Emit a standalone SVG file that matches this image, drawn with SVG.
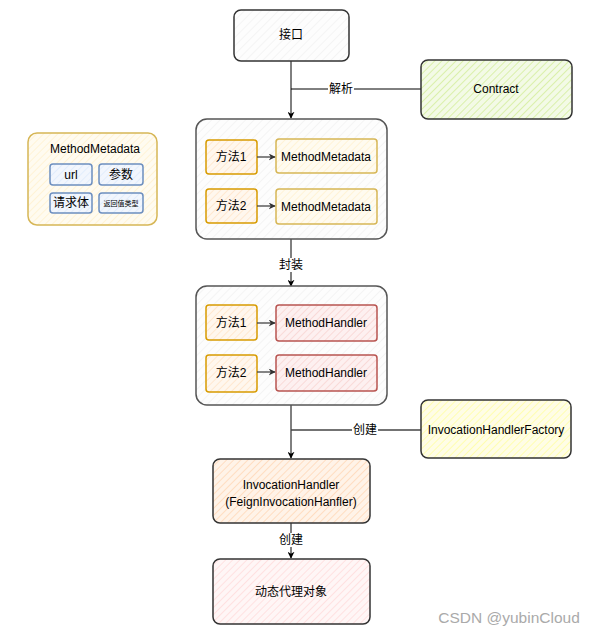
<svg xmlns="http://www.w3.org/2000/svg" width="593" height="635" viewBox="0 0 593 635">
<style>
text{font-family:"Liberation Sans","Noto Sans CJK SC",sans-serif;font-size:12px;fill:#000;text-anchor:middle;dominant-baseline:central}
.n{stroke-width:1.5;stroke-linejoin:round}
.dark{stroke:#333}
.grp{stroke:#555}
.ora{stroke:#d79b00}
.yel{stroke:#d6b656}
.red{stroke:#b85450}
.blu{stroke:#6c8ebf}
.ln{stroke:#000;stroke-width:1;fill:none}
.gl{stroke:#444;stroke-width:1.3;fill:none}
.lbl{fill:#fff}
</style>
<defs>
<pattern id="hGray" width="6" height="6" patternUnits="userSpaceOnUse" patternTransform="rotate(45)"><rect width="6" height="6" fill="#fdfdfd"/><line x1="0" y1="0" x2="0" y2="6" stroke="#efefef" stroke-width="1.2"/></pattern>
<pattern id="hGreen" width="5" height="5" patternUnits="userSpaceOnUse" patternTransform="rotate(45)"><rect width="5" height="5" fill="#f3fae6"/><line x1="0" y1="0" x2="0" y2="5" stroke="#cdeb8b" stroke-width="1.3"/></pattern>
<pattern id="hOra" width="5" height="5" patternUnits="userSpaceOnUse" patternTransform="rotate(45)"><rect width="5" height="5" fill="#fff7ee"/><line x1="0" y1="0" x2="0" y2="5" stroke="#ffe0c0" stroke-width="1.3"/></pattern>
<pattern id="hYel" width="5" height="5" patternUnits="userSpaceOnUse" patternTransform="rotate(45)"><rect width="5" height="5" fill="#fffbf0"/><line x1="0" y1="0" x2="0" y2="5" stroke="#fff0c8" stroke-width="1.3"/></pattern>
<pattern id="hRed" width="5" height="5" patternUnits="userSpaceOnUse" patternTransform="rotate(45)"><rect width="5" height="5" fill="#fdf0f0"/><line x1="0" y1="0" x2="0" y2="5" stroke="#f8cecc" stroke-width="1.3"/></pattern>
<pattern id="hBlu" width="5" height="5" patternUnits="userSpaceOnUse" patternTransform="rotate(45)"><rect width="5" height="5" fill="#f2f6fd"/><line x1="0" y1="0" x2="0" y2="5" stroke="#dae8fc" stroke-width="1.3"/></pattern>
<pattern id="hLemon" width="5" height="5" patternUnits="userSpaceOnUse" patternTransform="rotate(45)"><rect width="5" height="5" fill="#fffde6"/><line x1="0" y1="0" x2="0" y2="5" stroke="#ffff99" stroke-width="1.4"/></pattern>
<pattern id="hPeach" width="5" height="5" patternUnits="userSpaceOnUse" patternTransform="rotate(45)"><rect width="5" height="5" fill="#fff3e8"/><line x1="0" y1="0" x2="0" y2="5" stroke="#ffd4b0" stroke-width="1.4"/></pattern>
<pattern id="hPink" width="5" height="5" patternUnits="userSpaceOnUse" patternTransform="rotate(45)"><rect width="5" height="5" fill="#fff6f6"/><line x1="0" y1="0" x2="0" y2="5" stroke="#ffd6d6" stroke-width="1.3"/></pattern>
<marker id="arr" viewBox="0 0 10 10" refX="9" refY="5" markerWidth="7" markerHeight="7" orient="auto" markerUnits="userSpaceOnUse"><path d="M0,0 L10,5 L0,10 L3,5 Z" fill="#000"/></marker>
<marker id="arrG" viewBox="0 0 10 10" refX="9" refY="5" markerWidth="7" markerHeight="7" orient="auto" markerUnits="userSpaceOnUse"><path d="M0,0 L10,5 L0,10 L3,5 Z" fill="#333"/></marker>
</defs>

<g id="connectors">
<line class="ln" x1="291" y1="61" x2="291" y2="118" marker-end="url(#arr)"/>
<line class="ln" x1="291" y1="89" x2="421" y2="89"/>
<rect class="lbl" x="328" y="82" width="26" height="14"/>
<text x="341" y="89">解析</text>
<line class="ln" x1="291" y1="239" x2="291" y2="286" marker-end="url(#arr)"/>
<rect class="lbl" x="278" y="258" width="26" height="14"/>
<text x="291" y="265">封装</text>
<line class="ln" x1="291" y1="405" x2="291" y2="458" marker-end="url(#arr)"/>
<line class="gl" x1="291" y1="430" x2="421" y2="430" stroke="#555"/>
<rect class="lbl" x="352" y="423" width="26" height="14"/>
<text x="365" y="430">创建</text>
<line class="ln" x1="291" y1="523" x2="291" y2="558" marker-end="url(#arr)"/>
<rect class="lbl" x="278" y="533" width="26" height="14"/>
<text x="291" y="540">创建</text>
</g>

<g id="node-interface">
<rect class="n dark" x="234" y="10" width="115" height="51" rx="7" fill="url(#hGray)"/>
<text x="291" y="35">接口</text>
</g>

<g id="node-contract">
<rect class="n dark" x="421" y="60" width="151" height="59" rx="7" fill="url(#hGreen)"/>
<text x="496" y="89">Contract</text>
</g>

<g id="node-legend">
<rect class="n yel" x="28" y="133" width="129" height="92" rx="9" fill="url(#hYel)"/>
<text x="95" y="149">MethodMetadata</text>
<rect class="n blu" x="50" y="164" width="42" height="21" rx="3" fill="url(#hBlu)"/>
<text x="71" y="175">url</text>
<rect class="n blu" x="99" y="164" width="44" height="21" rx="3" fill="url(#hBlu)"/>
<text x="121" y="175">参数</text>
<rect class="n blu" x="50" y="193" width="42" height="20" rx="3" fill="url(#hBlu)"/>
<text x="71" y="203">请求体</text>
<rect class="n blu" x="99" y="193" width="44" height="20" rx="3" fill="url(#hBlu)"/>
<text x="121" y="203" style="font-size:7px">返回值类型</text>
</g>

<g id="node-group1">
<rect class="n grp" x="196" y="119" width="191" height="120" rx="11" fill="url(#hGray)"/>
</g>
<g id="node-m1a">
<rect class="n ora" x="206" y="140" width="51" height="34" rx="3" fill="url(#hOra)"/>
<text x="231" y="157">方法1</text>
</g>
<g id="node-md1">
<rect class="n yel" x="276" y="139" width="101" height="34" rx="3" fill="url(#hYel)"/>
<text x="326" y="157">MethodMetadata</text>
</g>
<g id="node-m2a">
<rect class="n ora" x="206" y="189" width="51" height="34" rx="3" fill="url(#hOra)"/>
<text x="231" y="206">方法2</text>
</g>
<g id="node-md2">
<rect class="n yel" x="276" y="189" width="101" height="35" rx="3" fill="url(#hYel)"/>
<text x="326" y="207">MethodMetadata</text>
</g>

<g id="node-group2">
<rect class="n grp" x="196" y="286" width="191" height="119" rx="11" fill="url(#hGray)"/>
</g>
<g id="node-m1b">
<rect class="n ora" x="206" y="305" width="51" height="35" rx="3" fill="url(#hOra)"/>
<text x="231" y="323">方法1</text>
</g>
<g id="node-mh1">
<rect class="n red" x="276" y="305" width="101" height="36" rx="3" fill="url(#hRed)"/>
<text x="326" y="323">MethodHandler</text>
</g>
<g id="node-m2b">
<rect class="n ora" x="206" y="355" width="51" height="37" rx="3" fill="url(#hOra)"/>
<text x="231" y="373">方法2</text>
</g>
<g id="node-mh2">
<rect class="n red" x="276" y="355" width="101" height="36" rx="3" fill="url(#hRed)"/>
<text x="326" y="373">MethodHandler</text>
</g>

<g id="inner-arrows">
<line class="gl" x1="257" y1="157" x2="275" y2="157" marker-end="url(#arrG)"/>
<line class="gl" x1="257" y1="206" x2="275" y2="206" marker-end="url(#arrG)"/>
<line class="gl" x1="257" y1="323" x2="275" y2="323" marker-end="url(#arrG)"/>
<line class="gl" x1="257" y1="372" x2="275" y2="372" marker-end="url(#arrG)"/>
</g>

<g id="node-factory">
<rect class="n dark" x="421" y="400" width="150" height="58" rx="7" fill="url(#hLemon)"/>
<text x="496" y="430">InvocationHandlerFactory</text>
</g>

<g id="node-invocation">
<rect class="n dark" x="213" y="459" width="157" height="64" rx="7" fill="url(#hPeach)"/>
<text x="291" y="485">InvocationHandler</text>
<text x="291" y="502">(FeignInvocationHanfler)</text>
</g>

<g id="node-proxy">
<rect class="n dark" x="213" y="559" width="157" height="65" rx="7" fill="url(#hPink)"/>
<text x="291" y="592">动态代理对象</text>
</g>

<text x="509" y="617" style="font-size:15.5px;fill:#aaa">CSDN @yubinCloud</text>
</svg>
